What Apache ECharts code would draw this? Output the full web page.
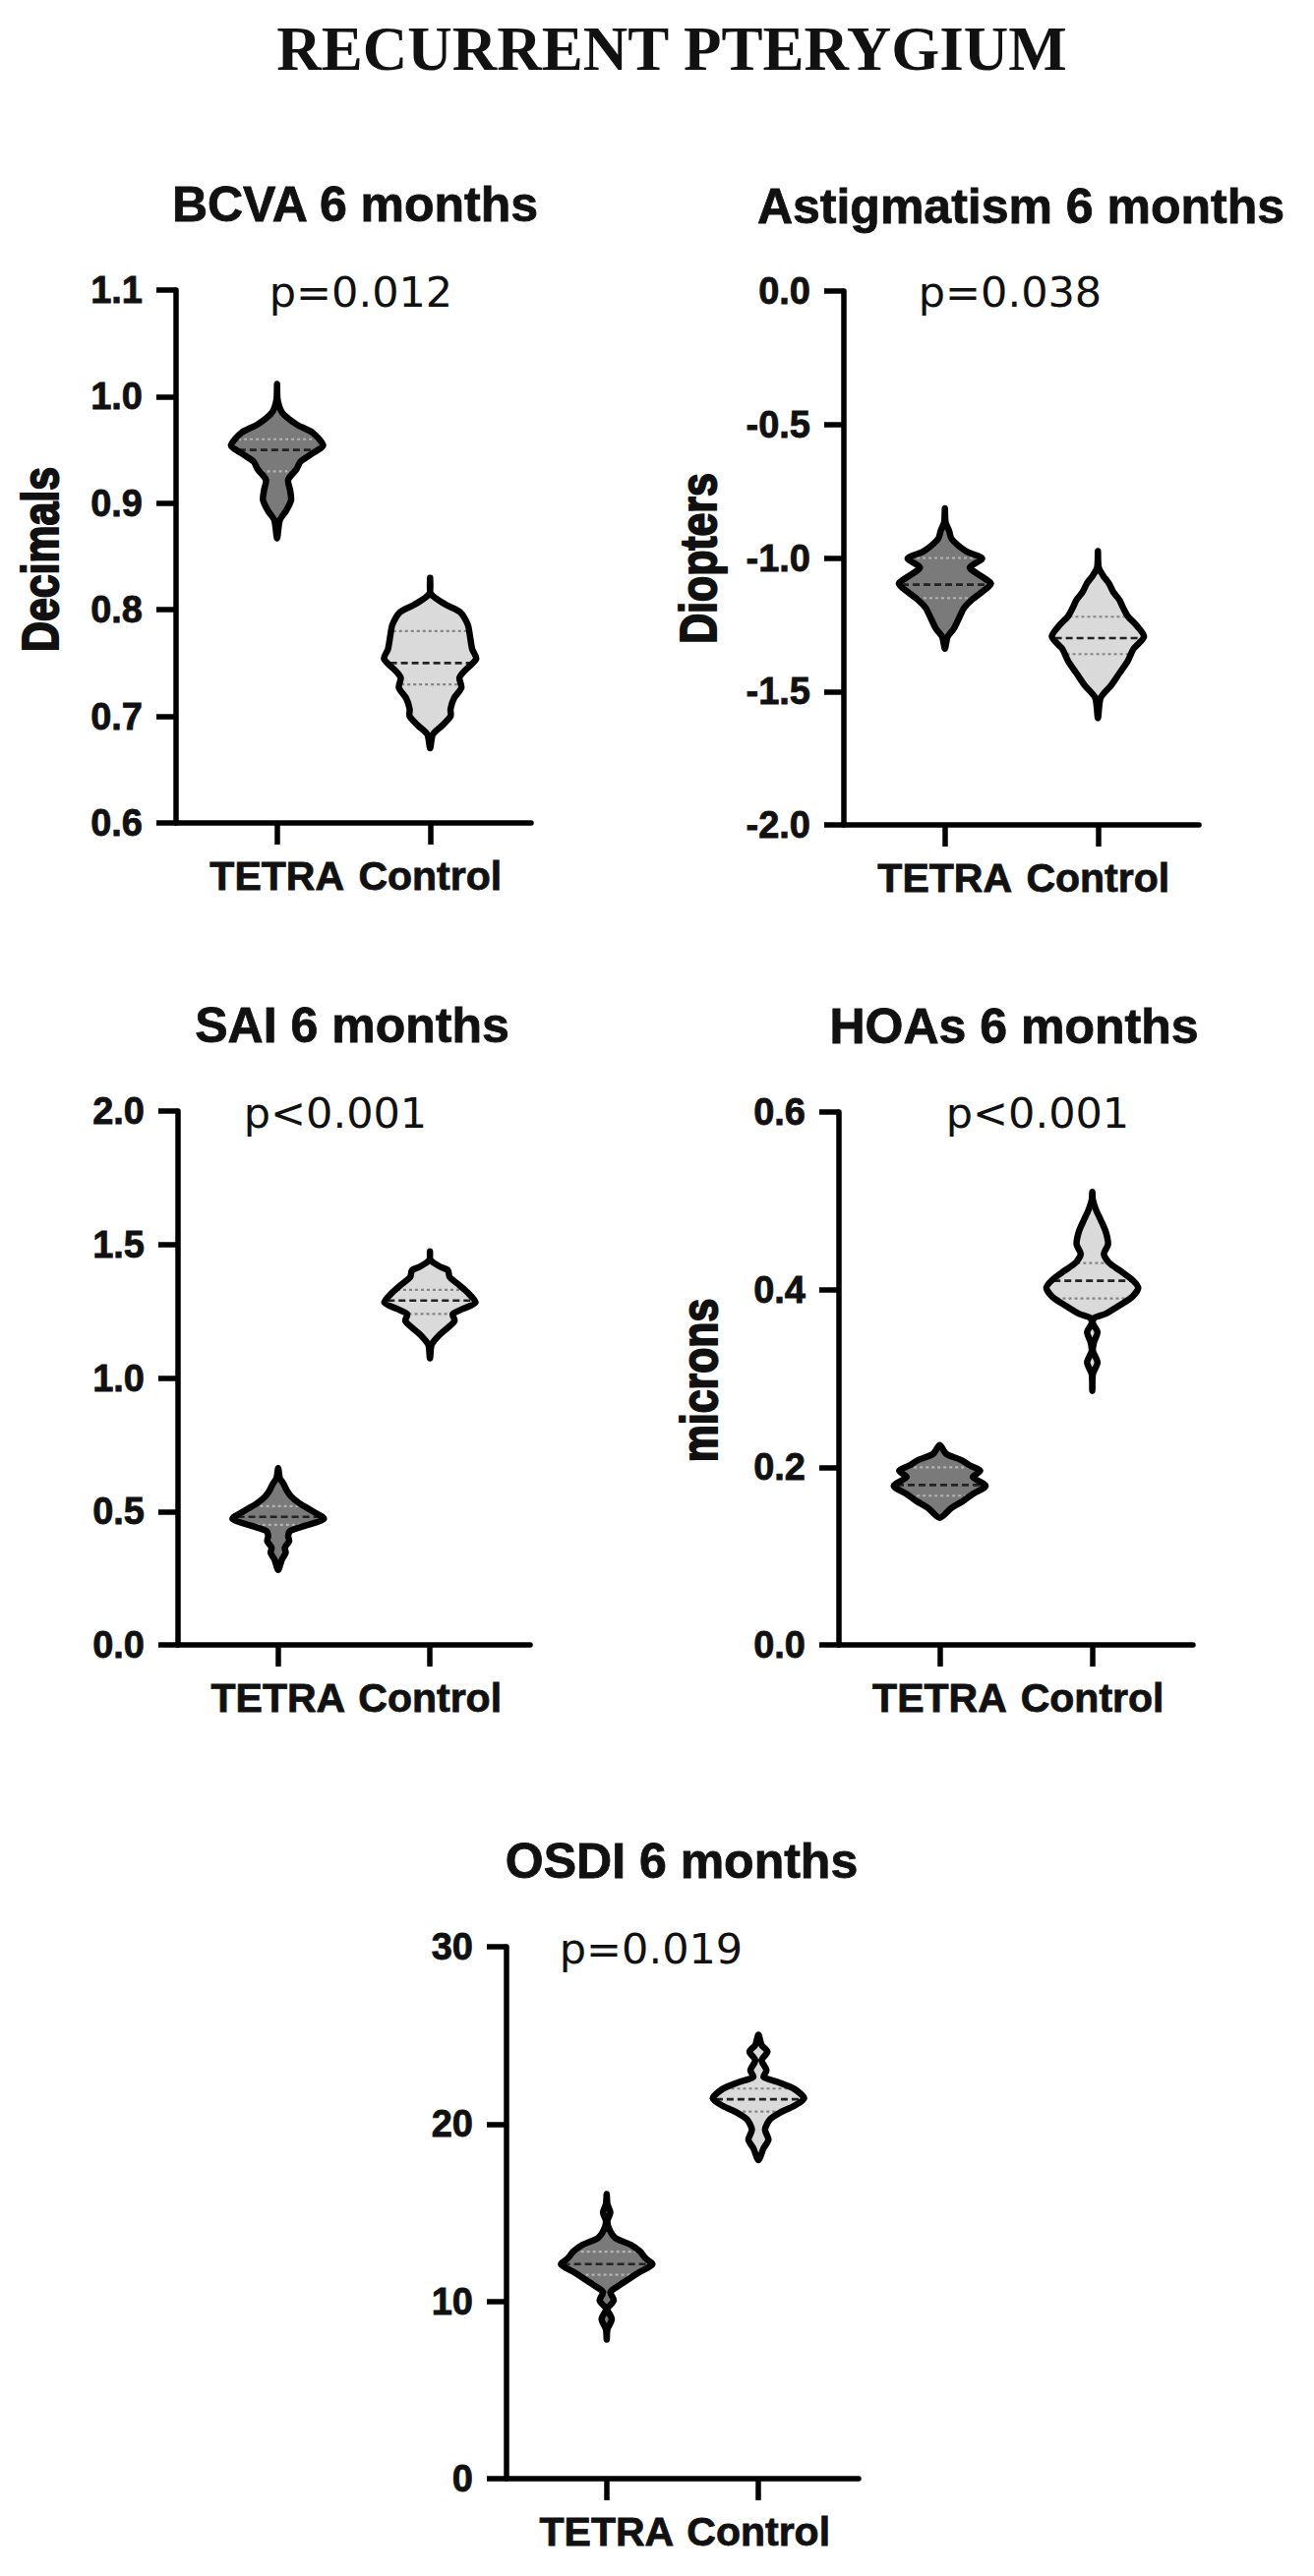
<!DOCTYPE html>
<html>
<head>
<meta charset="utf-8">
<script src="https://cdn.jsdelivr.net/npm/echarts@6/dist/echarts.min.js"></script>
<style>
html,body{margin:0;padding:0;background:#fff;}
#chart{width:1336px;height:2620px;}
</style>
</head>
<body>
<div id="chart"></div>
<script>
// ---------------- DATA ----------------
const categories = ['TETRA', 'Control'];

// BCVA 6 months (Decimals)
const bcvaTetraVals = [1.012, 0.997, 0.985, 0.974, 0.966, 0.954, 0.947, 0.939, 0.932, 0.922, 0.912, 0.903, 0.893, 0.884, 0.867];
const bcvaTetraDens = [0, 0.07, 0.17, 0.46, 0.79, 1.0, 0.79, 0.54, 0.46, 0.29, 0.33, 0.35, 0.25, 0.12, 0];
const bcvaTetraQ = [0.93, 0.95, 0.96];
const bcvaCtrlVals = [0.830, 0.815, 0.805, 0.798, 0.786, 0.775, 0.763, 0.754, 0.742, 0.736, 0.727, 0.717, 0.707, 0.700, 0.691, 0.683, 0.670];
const bcvaCtrlDens = [0, 0.08, 0.375, 0.67, 0.83, 0.875, 0.92, 1.0, 0.75, 0.66, 0.70, 0.55, 0.48, 0.48, 0.30, 0.12, 0];
const bcvaCtrlQ = [0.73, 0.75, 0.78];

// Astigmatism 6 months (Diopters)
const astTetraVals = [-0.814, -0.867, -0.898, -0.928, -0.974, -1.002, -1.035, -1.066, -1.096, -1.127, -1.157, -1.188, -1.218, -1.264, -1.295, -1.340];
const astTetraDens = [0, 0.08, 0.15, 0.2, 0.49, 0.82, 0.57, 0.78, 1.0, 0.82, 0.61, 0.45, 0.37, 0.25, 0.12, 0];
const astTetraQ = [-1.15, -1.10, -1.00];
const astCtrlVals = [-0.974, -1.035, -1.066, -1.096, -1.127, -1.157, -1.188, -1.218, -1.249, -1.295, -1.340, -1.386, -1.432, -1.478, -1.524, -1.600];
const astCtrlDens = [0, 0.08, 0.17, 0.29, 0.375, 0.5, 0.58, 0.67, 0.83, 1.0, 0.79, 0.67, 0.5, 0.33, 0.12, 0];
const astCtrlQ = [-1.36, -1.30, -1.22];

// SAI 6 months
const saiTetraVals = [0.662, 0.624, 0.605, 0.579, 0.554, 0.529, 0.503, 0.472, 0.446, 0.427, 0.408, 0.389, 0.364, 0.345, 0.319, 0.281];
const saiTetraDens = [0, 0.10, 0.17, 0.24, 0.34, 0.51, 0.75, 1.0, 0.61, 0.31, 0.27, 0.29, 0.2, 0.22, 0.14, 0];
const saiTetraQ = [0.45, 0.48, 0.52];
const saiCtrlVals = [1.474, 1.442, 1.417, 1.404, 1.378, 1.353, 1.321, 1.283, 1.258, 1.239, 1.214, 1.188, 1.163, 1.125, 1.074];
const saiCtrlDens = [0, 0.07, 0.27, 0.43, 0.47, 0.63, 0.83, 1.0, 0.73, 0.53, 0.57, 0.43, 0.27, 0.1, 0];
const saiCtrlQ = [1.24, 1.29, 1.33];

// HOAs 6 months (microns)
const hoaTetraVals = [0.225, 0.215, 0.208, 0.202, 0.196, 0.189, 0.179, 0.170, 0.162, 0.154, 0.143];
const hoaTetraDens = [0, 0.2, 0.51, 0.68, 0.89, 0.74, 1.0, 0.74, 0.54, 0.3, 0];
const hoaTetraQ = [0.168, 0.18, 0.20];
const hoaCtrlVals = [0.510, 0.501, 0.490, 0.478, 0.465, 0.451, 0.440, 0.430, 0.421, 0.411, 0.402, 0.392, 0.383, 0.373, 0.368, 0.362, 0.352, 0.341, 0.331, 0.318, 0.305, 0.286];
const hoaCtrlDens = [0, 0.05, 0.14, 0.24, 0.34, 0.385, 0.30, 0.41, 0.64, 0.88, 1.0, 0.88, 0.64, 0.34, 0.1, 0.07, 0.17, 0.1, 0.07, 0.17, 0.07, 0];
const hoaCtrlQ = [0.39, 0.41, 0.43];

// OSDI 6 months
const osdiTetraVals = [16.06, 15.49, 15.01, 14.53, 14.06, 13.58, 13.20, 12.81, 12.43, 12.09, 11.67, 11.19, 10.81, 10.52, 10.05, 9.57, 9.00, 8.42, 7.85];
const osdiTetraDens = [0, 0.08, 0.14, 0.08, 0.12, 0.24, 0.55, 0.75, 0.86, 1.0, 0.75, 0.48, 0.27, 0.14, 0.21, 0.08, 0.17, 0.08, 0];
const osdiTetraQ = [11.5, 12.1, 12.8];
const osdiCtrlVals = [25.04, 24.46, 24.08, 23.60, 23.03, 22.65, 22.36, 21.98, 21.45, 21.03, 20.64, 20.26, 19.69, 19.12, 18.64, 17.97];
const osdiCtrlDens = [0, 0.13, 0.25, 0.13, 0.23, 0.17, 0.47, 0.8, 1.0, 0.8, 0.5, 0.3, 0.2, 0.27, 0.17, 0];
const osdiCtrlQ = [20.7, 21.4, 22.0];

// axis ranges / ticks
const yMins = [0.6, -2.0, 0, 0, 0];
const yMaxs = [1.1, 0.0, 2.0, 0.6, 30];
const yIntervals = [0.1, 0.5, 0.5, 0.2, 10];
const yDecimals = [1, 1, 1, 1, 0];

const panelTitles = ['BCVA 6 months', 'Astigmatism 6 months', 'SAI 6 months', 'HOAs 6 months', 'OSDI 6 months'];
const pValues = ['p=0.012', 'p=0.038', 'p<0.001', 'p<0.001', 'p=0.019'];
const yNames = ['Decimals', 'Diopters', '', 'microns', ''];
const mainTitle = 'RECURRENT PTERYGIUM';

// ---------------- LAYOUT / STYLE ----------------
const panels = [
  {grid: {left: 179, top: 295, width: 361, height: 542}, title: [361, 208], p: [367, 297], name: [41, 569],
   violins: [{vals: bcvaTetraVals, dens: bcvaTetraDens, q: bcvaTetraQ}, {vals: bcvaCtrlVals, dens: bcvaCtrlDens, q: bcvaCtrlQ}]},
  {grid: {left: 858, top: 296, width: 361, height: 543}, title: [1038, 210], p: [1027, 297], name: [710, 568],
   violins: [{vals: astTetraVals, dens: astTetraDens, q: astTetraQ}, {vals: astCtrlVals, dens: astCtrlDens, q: astCtrlQ}]},
  {grid: {left: 181, top: 1130, width: 358, height: 543}, title: [358, 1043], p: [341, 1132], name: null,
   violins: [{vals: saiTetraVals, dens: saiTetraDens, q: saiTetraQ}, {vals: saiCtrlVals, dens: saiCtrlDens, q: saiCtrlQ}]},
  {grid: {left: 853, top: 1131, width: 360, height: 542}, title: [1031, 1044], p: [1055, 1132], name: [711, 1404],
   violins: [{vals: hoaTetraVals, dens: hoaTetraDens, q: hoaTetraQ}, {vals: hoaCtrlVals, dens: hoaCtrlDens, q: hoaCtrlQ}]},
  {grid: {left: 515, top: 1980, width: 358, height: 541}, title: [693, 1893], p: [662, 1982], name: null,
   violins: [{vals: osdiTetraVals, dens: osdiTetraDens, q: osdiTetraQ}, {vals: osdiCtrlVals, dens: osdiCtrlDens, q: osdiCtrlQ}]}
];

const FILLS = ['#7a7a7a', '#dadada'];
const QCOL = ['#b4b4b4', '#858585'];
const MEDCOL = ['#222', '#222'];
const OUTER_HALF = 0.322;   // half violin width (x units, outer edge)
const LW = 6.5;
const AXW = 5.5;
const SANS = '"Liberation Sans", Arial, Helvetica, sans-serif';

function interpHalf(vals, dens, v) {
  for (let k = 0; k < vals.length - 1; k++) {
    const a = vals[k], b = vals[k + 1];
    if ((v <= a && v >= b) || (v >= a && v <= b)) {
      const t = (v - a) / (b - a || 1);
      return dens[k] + t * (dens[k + 1] - dens[k]);
    }
  }
  return 0;
}

function violinSeries(pi) {
  const vs = panels[pi].violins;
  return {
    type: 'custom',
    xAxisIndex: pi,
    yAxisIndex: pi,
    silent: true,
    data: vs.map((v, i) => [i + 1, v.q[1]]),
    renderItem: function (params, api) {
      const i = params.dataIndex;
      const vi = vs[i];
      const x = api.value(0);
      const outer = api.size([OUTER_HALF, 0])[0];
      const cx = api.coord([x, vi.vals[0]])[0];
      const halfAt = d => Math.max(0.6, d * outer - LW / 2);
      const right = [], left = [];
      const n = vi.vals.length;
      for (let k = 0; k < n; k++) {
        const y = api.coord([x, vi.vals[k]])[1];
        right.push([cx + (vi.dens[k] > 0 ? halfAt(vi.dens[k]) : 0), y]);
      }
      for (let k = n - 2; k >= 1; k--) {
        const y = api.coord([x, vi.vals[k]])[1];
        left.push([cx - halfAt(vi.dens[k]), y]);
      }
      const pts = right.concat(left);
      const children = [{
        type: 'polygon',
        shape: {points: pts, smooth: 0.25},
        style: {fill: FILLS[i], stroke: 'none'}
      }];
      vi.q.forEach((qv, qi) => {
        const y = api.coord([x, qv])[1];
        const w = Math.max(0, halfAt(interpHalf(vi.vals, vi.dens, qv)) - 2);
        const isMed = qi === 1;
        children.push({
          type: 'line',
          shape: {x1: cx - w, y1: y, x2: cx + w, y2: y},
          style: {
            stroke: isMed ? MEDCOL[i] : QCOL[i],
            lineWidth: isMed ? 2.6 : 2.2,
            lineDash: isMed ? [7, 4] : [3, 3]
          }
        });
      });
      children.push({
        type: 'polygon',
        shape: {points: pts, smooth: 0.25},
        style: {fill: 'none', stroke: '#000', lineWidth: LW, lineJoin: 'round'}
      });
      return {type: 'group', children: children};
    }
  };
}

const grids = [], xAxes = [], yAxes = [], series = [], graphics = [];
panels.forEach((p, pi) => {
  grids.push(Object.assign({containLabel: false}, p.grid));
  xAxes.push({
    type: 'value', gridIndex: pi, min: 0.34, max: 2.66,
    splitLine: {show: false},
    axisLine: {onZero: false, lineStyle: {color: '#000', width: AXW}},
    axisTick: {show: true, length: 22, customValues: [1, 2], lineStyle: {color: '#000', width: AXW}},
    axisLabel: {
      customValues: [1, 2], margin: 33,
      formatter: v => categories[Math.round(v) - 1] || '',
      color: '#111', fontSize: 41, fontWeight: 'bold', fontFamily: SANS,
      textBorderColor: '#111', textBorderWidth: 0.8
    }
  });
  yAxes.push({
    type: 'value', gridIndex: pi, min: yMins[pi], max: yMaxs[pi], interval: yIntervals[pi],
    splitLine: {show: false},
    axisLine: {show: true, onZero: false, lineStyle: {color: '#000', width: AXW}},
    axisTick: {show: true, length: 20, lineStyle: {color: '#000', width: AXW}},
    axisLabel: {
      margin: 34, color: '#111', fontSize: 38, fontWeight: 'bold', fontFamily: SANS,
      textBorderColor: '#111', textBorderWidth: 0.8,
      formatter: v => Number(v).toFixed(yDecimals[pi])
    }
  });
  series.push(violinSeries(pi));
  graphics.push({
    type: 'text', x: p.title[0], y: p.title[1],
    style: {text: panelTitles[pi], fill: '#111', font: 'bold 50px ' + SANS,
            stroke: '#111', lineWidth: 0.8,
            align: 'center', verticalAlign: 'middle', textAlign: 'center', textVerticalAlign: 'middle'}
  });
  graphics.push({
    type: 'text', x: p.p[0], y: p.p[1],
    style: {text: pValues[pi], fill: '#111', font: '43px "DejaVu Sans", sans-serif',
            align: 'center', verticalAlign: 'middle', textAlign: 'center', textVerticalAlign: 'middle'}
  });
  if (p.name && yNames[pi]) {
    graphics.push({
      type: 'text', x: p.name[0], y: p.name[1], rotation: Math.PI / 2, scaleX: 0.84,
      style: {text: yNames[pi], fill: '#111', font: 'bold 51px ' + SANS,
              stroke: '#111', lineWidth: 2,
              align: 'center', verticalAlign: 'middle', textAlign: 'center', textVerticalAlign: 'middle'}
    });
  }
});
graphics.push({
  type: 'text', x: 683, y: 50,
  style: {text: mainTitle, fill: '#111', font: 'bold 63px "Liberation Serif", "Times New Roman", serif',
          align: 'center', verticalAlign: 'middle', textAlign: 'center', textVerticalAlign: 'middle'}
});

const chart = echarts.init(document.getElementById('chart'), null, {renderer: 'svg', width: 1336, height: 2620});
chart.setOption({
  backgroundColor: '#fff',
  animation: false,
  grid: grids,
  xAxis: xAxes,
  yAxis: yAxes,
  series: series,
  graphic: graphics
});
</script>
</body>
</html>
